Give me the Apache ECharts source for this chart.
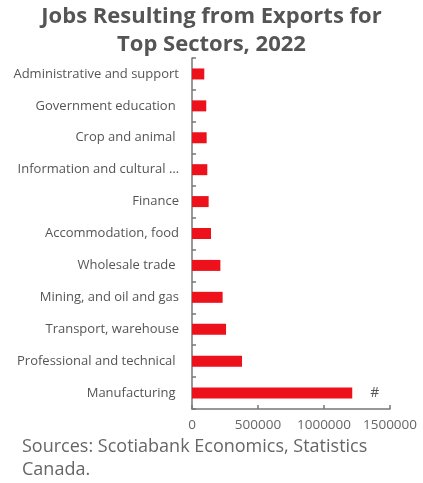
<!DOCTYPE html>
<html>
<head>
<meta charset="utf-8">
<script src="https://cdn.jsdelivr.net/npm/echarts@6/dist/echarts.min.js"></script>
<style>
  html, body { margin: 0; padding: 0; background: #fff; }
  #chart { width: 423px; height: 483px; }
</style>
</head>
<body>
<div id="chart"></div>
<script>
// Sectors, listed top to bottom
const sectors = [
  'Administrative and support',
  'Government education ',
  'Crop and animal ',
  'Information and cultural industries',
  'Finance',
  'Accommodation, food',
  'Wholesale trade ',
  'Mining, and oil and gas',
  'Transport, warehouse',
  'Professional and technical ',
  'Manufacturing '
];
// Jobs resulting from exports, 2022
const jobs = [93000, 108000, 111000, 116000, 126000, 144000, 215000, 232000, 258000, 379000, 1214000];
const xTicks = [0, 500000, 1000000, 1500000];

const chart = echarts.init(document.getElementById('chart'), null, { renderer: 'canvas' });
const font = '"Open Sans", "Noto Sans", sans-serif';

// The long sector name is cut short with an ellipsis
const categoryData = sectors.map((name) =>
  name.length > 30
    ? { value: name, textStyle: { width: 165, overflow: 'truncate', ellipsis: '…' } }
    : name
);

chart.setOption({
  animation: false,
  title: {
    text: 'Jobs Resulting from Exports for\nTop Sectors, 2022',
    left: 'center',
    top: -2,
    textStyle: {
      fontFamily: font,
      fontWeight: 'bold',
      fontSize: 22,
      lineHeight: 28,
      color: '#555555'
    }
  },
  grid: { left: 192, right: 33, top: 58, bottom: 74, containLabel: false },
  xAxis: {
    type: 'value',
    min: xTicks[0],
    max: xTicks[xTicks.length - 1],
    interval: xTicks[1] - xTicks[0],
    axisLine: { show: true, lineStyle: { color: '#777777', width: 1.5 } },
    axisTick: { show: true, inside: true, length: 4, lineStyle: { color: '#777777', width: 1.5 } },
    splitLine: { show: false },
    axisLabel: {
      color: '#666666',
      fontFamily: font,
      fontSize: 13.5,
      margin: 9,
      formatter: (v) => String(v)
    }
  },
  yAxis: {
    type: 'category',
    data: categoryData,
    inverse: true,
    axisLine: { show: true, lineStyle: { color: '#777777', width: 1.5 } },
    axisTick: { show: true, inside: true, length: 4, lineStyle: { color: '#777777', width: 1.5 } },
    axisLabel: {
      color: '#555555',
      fontFamily: font,
      fontSize: 13,
      margin: 13
    }
  },
  series: [{
    type: 'bar',
    data: jobs,
    barWidth: 11,
    itemStyle: { color: '#EC111A' },
    label: {
      show: true,
      position: 'right',
      distance: 18,
      formatter: (p) => (p.dataIndex === jobs.length - 1 ? '#' : ''),
      color: '#555555',
      fontFamily: font,
      fontSize: 14
    }
  }],
  graphic: [{
    type: 'text',
    left: 22,
    top: 435,
    style: {
      text: 'Sources: Scotiabank Economics, Statistics\nCanada.',
      fill: '#666666',
      font: '18px ' + font,
      lineHeight: 23
    }
  }]
});
</script>
</body>
</html>
